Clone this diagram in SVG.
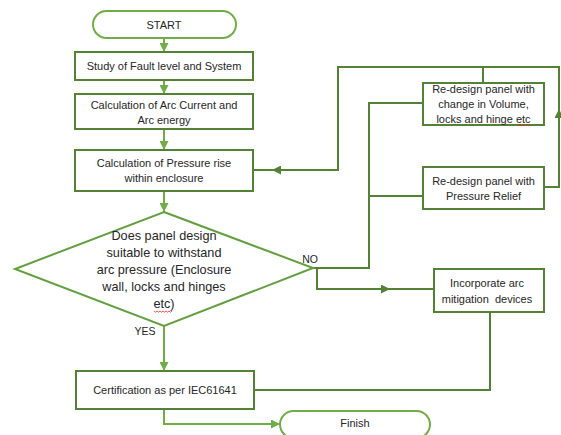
<svg xmlns="http://www.w3.org/2000/svg" width="561" height="435" viewBox="0 0 561 435">
<defs>
<marker id="ah" viewBox="0 0 10 10" refX="10" refY="5" markerWidth="9" markerHeight="9" markerUnits="userSpaceOnUse" orient="auto">
<path d="M0,0 L10,5 L0,10 z" fill="#70AD47"/>
</marker>
<marker id="ahd" viewBox="0 0 10 10" refX="10" refY="5" markerWidth="9" markerHeight="9" markerUnits="userSpaceOnUse" orient="auto">
<path d="M0,0 L10,5 L0,10 z" fill="#548235"/>
</marker>
<style>
.box{fill:#fff;stroke:#548235;stroke-width:2}
.term{fill:#fff;stroke:#70AD47;stroke-width:2}
.dia{fill:#fff;stroke:#62A03F;stroke-width:2}
.t{font-family:"Liberation Sans",Arial,sans-serif;font-size:11px;fill:#262626;text-anchor:middle}
.td{font-family:"Liberation Sans",Arial,sans-serif;font-size:12.7px;fill:#262626;text-anchor:middle}
.lbl{font-family:"Liberation Sans",Arial,sans-serif;font-size:10.5px;fill:#262626;text-anchor:middle}
.c{fill:none;stroke:#70AD47;stroke-width:2}
.cd{fill:none;stroke:#548235;stroke-width:2}
.sq{fill:none;stroke:#E03030;stroke-width:0.8}
</style>
</defs>
<rect width="561" height="435" fill="#fff"/>
<g id="connectors">
<path class="c" d="M164,38 V52" marker-end="url(#ah)"/>
<path class="c" d="M164,80 V94" marker-end="url(#ah)"/>
<path class="c" d="M164,129 V150" marker-end="url(#ah)"/>
<path class="c" d="M164,191 V212" marker-end="url(#ah)"/>
<path class="c" d="M164,326 V371" marker-end="url(#ah)"/>
<path class="c" d="M164,409 V424 H280" marker-end="url(#ah)"/>
<path class="cd" d="M313,268 H369 V103 H423"/>
<path class="cd" d="M369,196 H423"/>
<path class="cd" d="M317,269 V289 H390" marker-end="url(#ahd)"/>
<path class="cd" d="M388,289 H434"/>
<path class="cd" d="M544,187 H559 V109" marker-end="url(#ahd)"/>
<path class="cd" d="M559,111 V67 H338 V170 H272" marker-end="url(#ahd)"/>
<path class="cd" d="M274,170 H253"/>
<path class="cd" d="M483,83 V67"/>
<path class="cd" d="M490,312 V390 H254"/>
</g>
<g id="start">
<rect class="term" x="93" y="11" width="143" height="27" rx="13.5"/>
<text class="t" x="164" y="29">START</text>
</g>
<g id="study">
<rect class="box" x="75" y="52" width="178" height="28"/>
<text class="t" x="164" y="70">Study of Fault level and System</text>
</g>
<g id="arc-current">
<rect class="box" x="75" y="94" width="178" height="35"/>
<text class="t" x="164" y="109">Calculation of Arc Current and</text>
<text class="t" x="164" y="124">Arc energy</text>
</g>
<g id="pressure-rise">
<rect class="box" x="75" y="150" width="178" height="41"/>
<text class="t" x="164" y="167">Calculation of Pressure rise</text>
<text class="t" x="164" y="182">within enclosure</text>
</g>
<g id="decision">
<polygon class="dia" points="164,212 313,268 164,326 15,269"/>
<text class="td" x="164" y="239.5">Does panel design</text>
<text class="td" x="164" y="256.5">suitable to withstand</text>
<text class="td" x="164" y="274">arc pressure (Enclosure</text>
<text class="td" x="164" y="291">wall, locks and hinges</text>
<text class="td" x="164" y="308">etc)</text>
<path class="sq" d="M154,311 l1.5,1.2 l1.5,-1.2 l1.5,1.2 l1.5,-1.2 l1.5,1.2 l1.5,-1.2 l1.5,1.2 l1.5,-1.2 l1.5,1.2 l1.5,-1.2 l1.5,1.2 l1.5,-1.2"/>
<text class="lbl" x="310" y="263">NO</text>
<text class="lbl" x="145" y="335">YES</text>
</g>
<g id="redesign-volume">
<rect class="box" x="423" y="83" width="121" height="42"/>
<text class="t" x="483.5" y="93">Re-design panel with</text>
<text class="t" x="483.5" y="108">change in Volume,</text>
<text class="t" x="483.5" y="123">locks and hinge etc</text>
<path class="sq" d="M516,124.5 l1.5,1 l1.5,-1 l1.5,1 l1.5,-1 l1.5,1 l1.5,-1 l1.5,1 l1.5,-1 l1.5,1 l1.5,-1"/>
</g>
<g id="redesign-relief">
<rect class="box" x="423" y="167" width="121" height="42"/>
<text class="t" x="483.5" y="185">Re-design panel with</text>
<text class="t" x="483.5" y="200">Pressure Relief</text>
</g>
<g id="mitigation">
<rect class="box" x="434" y="269" width="110" height="43"/>
<text class="t" x="487" y="287">Incorporate arc</text>
<text class="t" x="487" y="303" xml:space="preserve">mitigation  devices</text>
</g>
<g id="certification">
<rect class="box" x="76" y="371" width="178" height="38"/>
<text class="t" x="165" y="394">Certification as per IEC61641</text>
</g>
<g id="finish">
<rect class="term" x="280" y="411" width="150" height="27" rx="13.5"/>
<text class="t" x="355" y="427">Finish</text>
</g>
</svg>
